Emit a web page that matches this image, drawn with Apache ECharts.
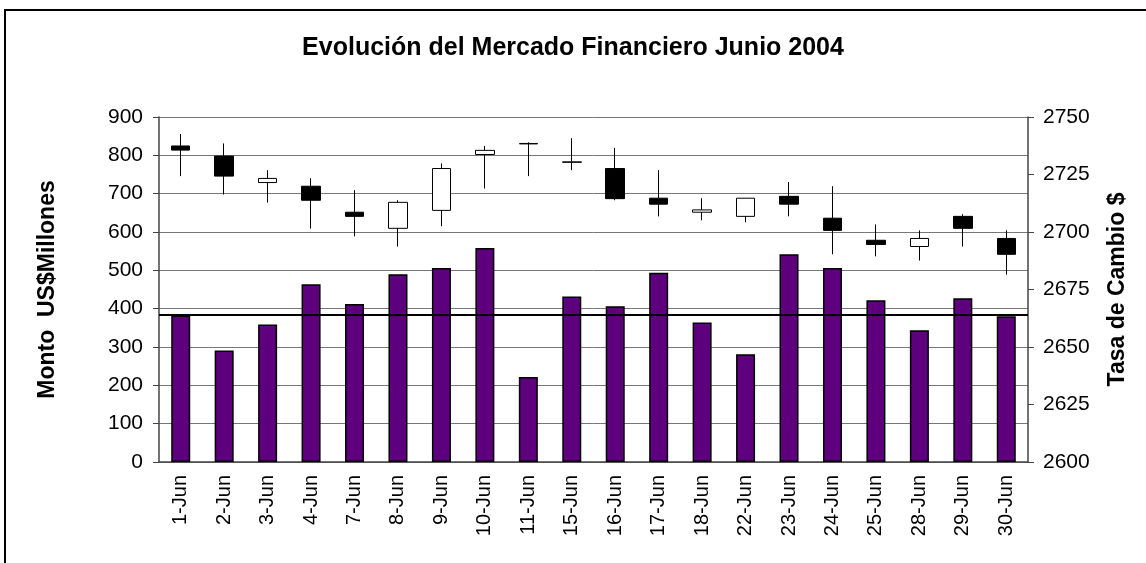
<!DOCTYPE html>
<html>
<head>
<meta charset="utf-8">
<script src="https://cdn.jsdelivr.net/npm/echarts@6/dist/echarts.min.js"></script>
<style>
  html, body { margin: 0; padding: 0; background: #fff; }
  #chart { width: 1146px; height: 563px; }
</style>
</head>
<body>
<div id="chart"></div>
<script>
var dias = ['1-Jun', '2-Jun', '3-Jun', '4-Jun', '7-Jun', '8-Jun', '9-Jun', '10-Jun', '11-Jun', '15-Jun',
  '16-Jun', '17-Jun', '18-Jun', '22-Jun', '23-Jun', '24-Jun', '25-Jun', '28-Jun', '29-Jun', '30-Jun']

// Monto US$ millones (barras, eje izquierdo)
var montos = [382, 291, 359, 464, 412, 490, 506, 558, 222, 432,
  406, 494, 364, 281, 542, 506, 422, 344, 427, 380]

// Tasa de cambio (velas, eje derecho): apertura, cierre, minimo, maximo
var apertura = [2737.4, 2733.0, 2721.5, 2719.9, 2708.6, 2701.6, 2709.4, 2733.7, 2738.3, 2730.3,
  2727.6, 2714.7, 2708.6, 2706.8, 2715.5, 2706.0, 2696.4, 2693.7, 2706.8, 2697.2]
var cierre = [2735.6, 2724.3, 2723.3, 2713.8, 2706.8, 2712.9, 2727.6, 2735.5, 2738.5, 2730.5,
  2714.5, 2712.1, 2709.6, 2714.7, 2712.1, 2700.7, 2694.6, 2697.2, 2701.6, 2690.3]
var minimo = [2724.3, 2716.3, 2712.8, 2701.5, 2698.1, 2693.7, 2702.5, 2718.9, 2724.3, 2726.9,
  2713.8, 2706.8, 2705.1, 2704.2, 2706.8, 2690.3, 2689.4, 2687.6, 2693.7, 2681.5]
var maximo = [2742.6, 2738.5, 2726.9, 2723.4, 2718.2, 2713.8, 2729.8, 2737.4, 2739.0, 2740.8,
  2736.6, 2726.9, 2714.7, 2714.7, 2721.7, 2719.9, 2703.3, 2700.7, 2707.7, 2700.7]

// linea horizontal (eje izquierdo)
var promedio = 385

var velas = []
for (var i = 0; i < dias.length; i++) {
  velas.push([apertura[i], cierre[i], minimo[i], maximo[i]])
}

var fuente = 'Liberation Sans, Arial, sans-serif'
var chart = echarts.init(document.getElementById('chart'))

var option = {
  animation: false,
  backgroundColor: '#fff',
  title: {
    text: 'Evolución del Mercado Financiero Junio 2004',
    left: 'center',
    top: 31,
    textStyle: { fontFamily: fuente, fontSize: 25, fontWeight: 'bold', color: '#000' }
  },
  graphic: [{
    type: 'rect',
    shape: { x: 5, y: 10, width: 1150, height: 600 },
    style: { fill: 'none', stroke: '#000', lineWidth: 2 },
    silent: true
  }],
  grid: { left: 159, right: 118, top: 117, bottom: 101 },
  xAxis: {
    type: 'category',
    data: dias,
    axisLine: { lineStyle: { color: '#444', width: 1.5 } },
    axisTick: { interval: 0, length: 6, lineStyle: { color: '#444' } },
    axisLabel: {
      interval: 0,
      rotate: 90,
      margin: 13,
      fontFamily: fuente,
      fontSize: 20,
      color: '#000'
    }
  },
  yAxis: [{
    type: 'value',
    min: 0,
    max: 900,
    interval: 100,
    name: 'Monto  US$Millones',
    nameLocation: 'middle',
    nameRotate: 90,
    nameGap: 100,
    nameTextStyle: { fontFamily: fuente, fontSize: 23, fontWeight: 'bold', color: '#000' },
    axisLine: { show: true, lineStyle: { color: '#444', width: 1.5 } },
    axisTick: { show: true, length: 6, lineStyle: { color: '#444' } },
    axisLabel: { fontFamily: fuente, fontSize: 21, color: '#000', margin: 16 },
    splitLine: { lineStyle: { color: '#777', width: 1 } }
  }, {
    type: 'value',
    min: 2600,
    max: 2750,
    interval: 25,
    position: 'right',
    name: 'Tasa de Cambio $',
    nameLocation: 'middle',
    nameRotate: 90,
    nameGap: 78,
    nameTextStyle: { fontFamily: fuente, fontSize: 23, fontWeight: 'bold', color: '#000' },
    axisLine: { show: true, lineStyle: { color: '#444', width: 1.5 } },
    axisTick: { show: true, length: 6, lineStyle: { color: '#444' } },
    axisLabel: {
      fontFamily: fuente,
      fontSize: 21,
      color: '#000',
      margin: 15,
      formatter: function (v) { return String(v) }
    },
    splitLine: { show: false }
  }],
  series: [{
    name: 'Monto',
    type: 'bar',
    yAxisIndex: 0,
    data: montos,
    barWidth: 19,
    itemStyle: { color: '#5e007e', borderColor: '#000', borderWidth: 1.5 },
    markLine: {
      silent: true,
      symbol: 'none',
      label: { show: false },
      lineStyle: { color: '#000', width: 2, type: 'solid' },
      data: [{ yAxis: promedio }]
    }
  }, {
    name: 'Tasa de Cambio',
    type: 'candlestick',
    yAxisIndex: 1,
    data: velas,
    barWidth: 19,
    itemStyle: {
      color: '#fff',
      color0: '#000',
      borderColor: '#000',
      borderColor0: '#000',
      borderWidth: 1
    }
  }]
}

chart.setOption(option)
</script>
</body>
</html>
